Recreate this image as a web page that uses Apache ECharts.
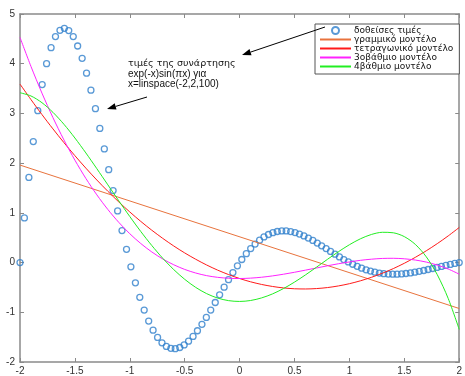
<!DOCTYPE html>
<html><head><meta charset="utf-8">
<script src="https://cdn.jsdelivr.net/npm/echarts@6/dist/echarts.min.js"></script>
<style>html,body{margin:0;padding:0;background:#fff}#c{width:465px;height:376px}</style>
</head><body><div id="c"></div>
<script>
const sampleX = [-2,-1.960,-1.919,-1.879,-1.838,-1.798,-1.758,-1.717,-1.677,-1.636,
-1.596,-1.556,-1.515,-1.475,-1.434,-1.394,-1.354,-1.313,-1.273,-1.232,
-1.192,-1.152,-1.111,-1.071,-1.030,-0.990,-0.949,-0.909,-0.869,-0.828,
-0.788,-0.747,-0.707,-0.667,-0.626,-0.586,-0.545,-0.505,-0.465,-0.424,
-0.384,-0.343,-0.303,-0.263,-0.222,-0.182,-0.141,-0.101,-0.061,-0.020,
0.020,0.061,0.101,0.141,0.182,0.222,0.263,0.303,0.343,0.384,
0.424,0.465,0.505,0.545,0.586,0.626,0.667,0.707,0.747,0.788,
0.828,0.869,0.909,0.949,0.990,1.030,1.071,1.111,1.152,1.192,
1.232,1.273,1.313,1.354,1.394,1.434,1.475,1.515,1.556,1.596,
1.636,1.677,1.717,1.758,1.798,1.838,1.879,1.919,1.960,2];
const sampleY = [0,0.898,1.712,2.433,3.056,3.580,4.001,4.322,4.545,4.672,
4.711,4.666,4.545,4.356,4.108,3.809,3.468,3.095,2.698,2.286,
1.868,1.449,1.039,0.643,0.266,-0.085,-0.408,-0.699,-0.956,-1.176,
-1.359,-1.505,-1.614,-1.687,-1.725,-1.732,-1.708,-1.657,-1.582,-1.485,
-1.371,-1.243,-1.103,-0.955,-0.803,-0.648,-0.495,-0.345,-0.201,-0.065,
0.062,0.178,0.282,0.373,0.451,0.515,0.565,0.602,0.625,0.636,
0.636,0.624,0.603,0.574,0.536,0.493,0.445,0.392,0.337,0.281,
0.224,0.168,0.114,0.061,0.012,-0.034,-0.076,-0.113,-0.145,-0.172,
-0.194,-0.212,-0.224,-0.231,-0.234,-0.233,-0.228,-0.220,-0.208,-0.194,
-0.177,-0.159,-0.139,-0.119,-0.098,-0.077,-0.057,-0.037,-0.018,0];

const linearX = [-2, 2];
const linearY = [1.961, -0.924];

const fitX = [-2,-1.9,-1.8,-1.7,-1.6,-1.5,-1.4,-1.3,-1.2,-1.1,-1,-0.9,-0.8,-0.7,-0.6,-0.5,-0.4,-0.3,-0.2,-0.1,0,
0.1,0.2,0.3,0.4,0.5,0.6,0.7,0.8,0.9,1,1.1,1.2,1.3,1.4,1.5,1.6,1.7,1.8,1.9,2];
const quadY = [3.590,3.278,2.977,2.689,2.413,2.150,1.899,1.660,1.434,1.219,1.018,0.828,0.651,0.487,0.334,0.194,0.067,-0.049,-0.152,-0.242,-0.321,
-0.387,-0.440,-0.481,-0.510,-0.527,-0.531,-0.523,-0.503,-0.470,-0.425,-0.367,-0.297,-0.215,-0.121,-0.014,0.105,0.237,0.381,0.537,0.706];
const cubicY = [4.529,3.945,3.408,2.916,2.467,2.060,1.692,1.362,1.068,0.808,0.580,0.383,0.214,0.072,-0.044,-0.138,-0.210,-0.263,-0.297,-0.316,-0.321,
-0.313,-0.295,-0.268,-0.234,-0.195,-0.152,-0.109,-0.065,-0.024,0.013,0.045,0.068,0.083,0.086,0.076,0.051,0.010,-0.050,-0.130,-0.233];
const quarticY = [3.416,3.351,3.216,3.022,2.782,2.506,2.205,1.888,1.564,1.241,0.926,0.625,0.344,0.087,-0.141,-0.337,-0.499,-0.625,-0.714,-0.766,-0.782,
-0.763,-0.711,-0.630,-0.522,-0.393,-0.248,-0.093,0.065,0.218,0.359,0.478,0.565,0.609,0.599,0.522,0.366,0.116,-0.243,-0.724,-1.345];

const seriesNames = ['δοθείσες τιμές','γραμμικό μοντέλο','τετραγωνικό μοντέλο','3οβάθμιο μοντέλο','4βάθμιο μοντέλο'];
const annotation = ['τιμές της συνάρτησης','exp(-x)sin(πx) για','x=linspace(-2,2,100)'];

const FONT = 'Liberation Sans, Arial, sans-serif';
const GFONT = 'DejaVu Sans, sans-serif';
const zip = (xs, ys) => xs.map((x, i) => [x, ys[i]]);
const axisColor = '#8a8a8a';
const colors = ['#2f80cc', '#e8733d', '#ff1a1a', '#ff22ff', '#22ee22'];

function arrow(tail, head) {
  const dx = head[0] - tail[0], dy = head[1] - tail[1];
  const L = Math.hypot(dx, dy), ux = dx / L, uy = dy / L;
  const len = 9, w = 3.2;
  const bx = head[0] - ux * len, by = head[1] - uy * len;
  return [
    {type: 'line', shape: {x1: tail[0], y1: tail[1], x2: bx, y2: by}, style: {stroke: '#000', lineWidth: 1}, z: 100},
    {type: 'polygon', shape: {points: [head, [bx - uy * w, by + ux * w], [bx + uy * w, by - ux * w]]}, style: {fill: '#000'}, z: 100}
  ];
}

const chart = echarts.init(document.getElementById('c'), null, {renderer: 'canvas'});
const axisCommon = {
  axisLine: {show: true, onZero: false, lineStyle: {color: axisColor, width: 1.5}},
  axisTick: {show: true, inside: true, length: 4, lineStyle: {color: axisColor, width: 1}},
  splitLine: {show: false}
};
const lineIcon = 'path://M0,0H31V2H0Z';
chart.setOption({
  animation: false,
  backgroundColor: '#fff',
  grid: {left: 20, right: 2, top: 14, bottom: 12, containLabel: false},
  xAxis: [
    Object.assign({type: 'value', min: -2, max: 2, interval: 0.5, position: 'bottom',
      axisLabel: {show: true, fontSize: 10, color: '#333', fontFamily: FONT, margin: 4}}, axisCommon),
    Object.assign({type: 'value', min: -2, max: 2, interval: 0.5, position: 'top',
      axisLabel: {show: false}}, axisCommon)
  ],
  yAxis: [
    Object.assign({type: 'value', min: -2, max: 5, interval: 1, position: 'left',
      axisLabel: {show: true, fontSize: 10, color: '#333', fontFamily: FONT, margin: 5}}, axisCommon),
    Object.assign({type: 'value', min: -2, max: 5, interval: 1, position: 'right',
      axisLabel: {show: false}}, axisCommon)
  ],
  legend: {
    orient: 'vertical', left: 315, top: 24,
    padding: [2, 6, 3, 5], itemGap: 0, itemWidth: 31, itemHeight: 7,
    backgroundColor: '#fff', borderColor: '#555', borderWidth: 1, borderRadius: 0,
    textStyle: {fontSize: 9, fontFamily: GFONT, color: '#111', lineHeight: 8, padding: [0, 0, 0, -2]},
    data: [
      {name: seriesNames[0], icon: 'circle'},
      {name: seriesNames[1], icon: lineIcon, symbolKeepAspect: true, itemStyle: {color: colors[1]}},
      {name: seriesNames[2], icon: lineIcon, symbolKeepAspect: true, itemStyle: {color: colors[2]}},
      {name: seriesNames[3], icon: lineIcon, symbolKeepAspect: true, itemStyle: {color: colors[3]}},
      {name: seriesNames[4], icon: lineIcon, symbolKeepAspect: true, itemStyle: {color: colors[4]}}
    ]
  },
  series: [
    {name: seriesNames[0], type: 'scatter', data: zip(sampleX, sampleY), symbol: 'circle', symbolSize: 6,
      itemStyle: {color: 'rgba(255,255,255,0)', borderColor: colors[0], borderWidth: 1.3}, z: 2},
    {name: seriesNames[1], type: 'line', data: zip(linearX, linearY), symbol: 'none',
      lineStyle: {color: colors[1], width: 1}, itemStyle: {color: colors[1]}, z: 3},
    {name: seriesNames[2], type: 'line', data: zip(fitX, quadY), symbol: 'none', smooth: 0.3,
      lineStyle: {color: colors[2], width: 1}, itemStyle: {color: colors[2]}, z: 3},
    {name: seriesNames[3], type: 'line', data: zip(fitX, cubicY), symbol: 'none', smooth: 0.3,
      lineStyle: {color: colors[3], width: 1}, itemStyle: {color: colors[3]}, z: 3},
    {name: seriesNames[4], type: 'line', data: zip(fitX, quarticY), symbol: 'none', smooth: 0.3,
      lineStyle: {color: colors[4], width: 1}, itemStyle: {color: colors[4]}, z: 3}
  ],
  graphic: [
    {type: 'text', left: 128, top: 59, z: 100,
      style: {text: annotation[0], font: '9.5px ' + GFONT, fill: '#111'}},
    {type: 'text', left: 128, top: 69, z: 100,
      style: {text: annotation[1], font: '10px ' + FONT, fill: '#111'}},
    {type: 'text', left: 128, top: 79, z: 100,
      style: {text: annotation[2], font: '10px ' + FONT, fill: '#111'}}
  ].concat(arrow([325, 27], [242, 55]), arrow([147, 97], [107, 109]))
});
</script></body></html>
